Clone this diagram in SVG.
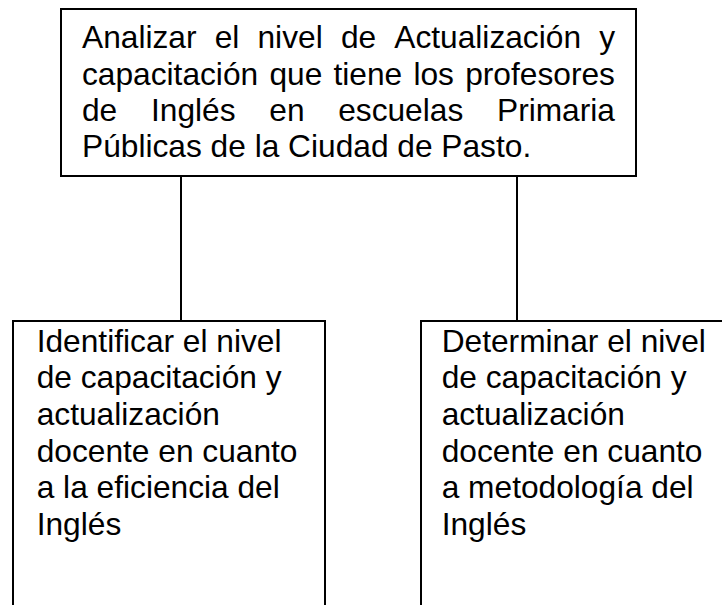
<svg xmlns="http://www.w3.org/2000/svg" width="722" height="605" viewBox="0 0 722 605">
<style>
.box{fill:none;stroke:#000;stroke-width:2}
.con{fill:none;stroke:#000;stroke-width:2}
text{font-family:"Liberation Sans",Arial,sans-serif;font-size:31.7px;fill:#000}
</style>
<rect x="0" y="0" width="722" height="605" fill="#fff"/>
<g id="connectors">
<line class="con" x1="181" y1="176" x2="181" y2="321"/>
<line class="con" x1="517" y1="176" x2="517" y2="321"/>
</g>
<g id="node-main">
<rect class="box" x="61" y="9" width="575" height="167"/>
<text y="48"><tspan x="82">Analizar</tspan><tspan x="214.7">el</tspan><tspan x="257.5">nivel</tspan><tspan x="340.9">de</tspan><tspan x="394.3">Actualización</tspan><tspan x="599.2">y</tspan></text>
<text y="84.5"><tspan x="82">capacitación</tspan><tspan x="269.4">que</tspan><tspan x="333.5">tiene</tspan><tspan x="413.4">los</tspan><tspan x="465.2">profesores</tspan></text>
<text y="120.5"><tspan x="82">de</tspan><tspan x="151">Inglés</tspan><tspan x="269.3">en</tspan><tspan x="338.2">escuelas</tspan><tspan x="497">Primaria</tspan></text>
<text x="82" y="156.5">Públicas de la Ciudad de Pasto.</text>
</g>
<g id="node-left">
<path class="box" d="M13,607 V321 H325 V607"/>
<text x="36.7" y="351.5">Identificar el nivel</text>
<text x="36.7" y="388.2">de capacitación y</text>
<text x="36.7" y="424.9">actualización</text>
<text x="36.7" y="461.6">docente en cuanto</text>
<text x="36.7" y="498.3">a la eficiencia del</text>
<text x="36.7" y="535">Inglés</text>
</g>
<g id="node-right">
<path class="box" d="M421,607 V321 H724"/>
<text x="441.7" y="351.5">Determinar el nivel</text>
<text x="441.7" y="388.2">de capacitación y</text>
<text x="441.7" y="424.9">actualización</text>
<text x="441.7" y="461.6">docente en cuanto</text>
<text x="441.7" y="498.3">a metodología del</text>
<text x="441.7" y="535">Inglés</text>
</g>
</svg>
